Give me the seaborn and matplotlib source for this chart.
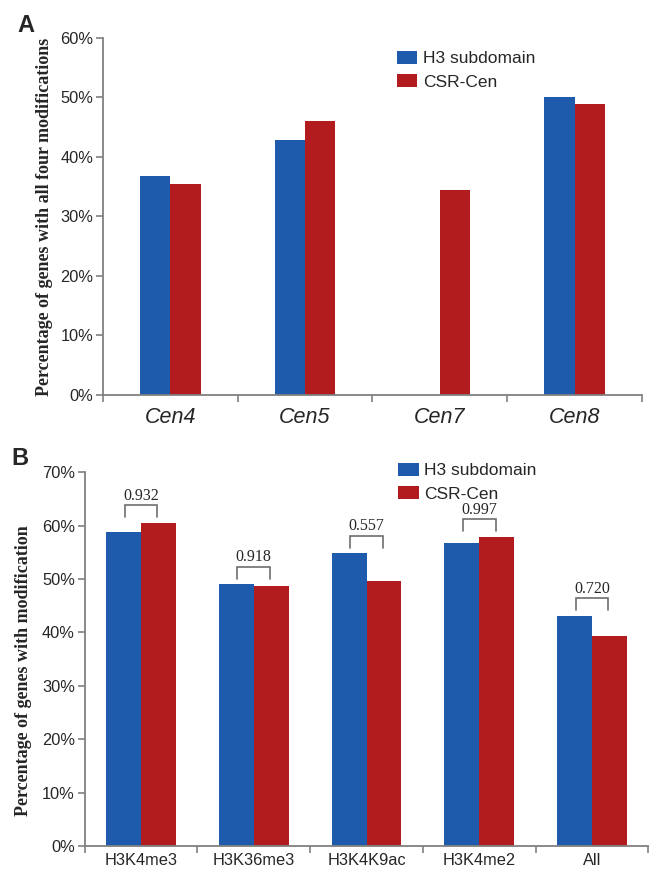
import numpy as np
import pandas as pd
import matplotlib
matplotlib.use("Agg")
import matplotlib.pyplot as plt
import seaborn as sns

#Panel A: genes with all four modifications per centromere
cen_names = ["Cen4", "Cen5", "Cen7", "Cen8"]
cen_h3 = [36.8, 42.8, np.nan, 50.0]
cen_csr = [35.5, 46.1, 34.4, 48.9]

#Panel B: genes with each modification
mod_names = ["H3K4me3", "H3K36me3", "H3K4K9ac", "H3K4me2", "All"]
mod_h3 = [58.8, 49.0, 54.8, 56.8, 43.1]
mod_csr = [60.5, 48.7, 49.7, 57.9, 39.4]
p_values = ["0.932", "0.918", "0.557", "0.997", "0.720"]

series_names = ["H3 subdomain", "CSR-Cen"]
bar_colors = ["#1f5bad", "#b31c1f"]
GRAY = "#808080"


#long table for seaborn, NaN rows are dropped so no bar is drawn
def make_df(names, h3, csr):
    rows = []
    for name, a, b in zip(names, h3, csr):
        rows.append({"group": name, "series": series_names[0], "value": a})
        rows.append({"group": name, "series": series_names[1], "value": b})
    return pd.DataFrame(rows).dropna()


def style_axes(ax, names, ymax, label, label_y):
    n = len(names)
    ax.set_xlim(-0.5, n - 0.5)
    ax.set_ylim(0, ymax)
    ax.set_yticks(np.arange(0, ymax + 1, 10))
    ax.set_yticklabels([f"{int(v)}%" for v in np.arange(0, ymax + 1, 10)], fontsize=11.8)
    #ticks sit between the categories, labels in the middle
    ax.set_xticks(np.arange(n + 1) - 0.5, labels=[""] * (n + 1))
    ax.set_xticks(np.arange(n), minor=True)
    ax.tick_params(axis="x", which="major", length=5, width=1.2, color=GRAY, direction="out")
    ax.tick_params(axis="x", which="minor", length=0)
    ax.tick_params(axis="y", length=5, width=1.2, color=GRAY, direction="out", pad=2)
    for s in ["top", "right"]:
        ax.spines[s].set_visible(False)
    for s in ["left", "bottom"]:
        ax.spines[s].set_color(GRAY)
        ax.spines[s].set_linewidth(1.3)
    ax.set_xlabel("")
    ax.set_ylabel(label, family="Liberation Serif", fontweight="bold", fontsize=13, va="center")
    ax.yaxis.set_label_coords(-0.108, label_y)


def draw_bars(ax, df, names, width, legend_xy):
    sns.barplot(data=df, x="group", y="value", hue="series", order=names,
                hue_order=series_names, palette=bar_colors, width=width,
                saturation=1, errorbar=None, linewidth=0, ax=ax)
    handles, labels = ax.get_legend_handles_labels()
    ax.legend(handles, labels, loc="upper left", bbox_to_anchor=legend_xy, frameon=False,
              fontsize=12.5, handlelength=1.2, handleheight=0.75, handletextpad=0.3,
              labelspacing=0.45, borderaxespad=0, borderpad=0)


def main():
    sns.set_style("ticks")
    plt.rcParams["font.family"] = ["Liberation Sans", "DejaVu Sans"]

    fig = plt.figure(figsize=(6.51, 8.69), dpi=100)
    ax_a = fig.add_axes([0.158, 0.5455, 0.828, 0.411])
    ax_b = fig.add_axes([0.130, 0.0265, 0.866, 0.430])

    #Panel A
    draw_bars(ax_a, make_df(cen_names, cen_h3, cen_csr), cen_names, 0.45, (0.545, 0.963))
    style_axes(ax_a, cen_names, 60, "Percentage of genes with all four modifications", 0.5)
    ax_a.set_xticklabels(cen_names, minor=True, fontsize=15.5, style="italic")
    ax_a.tick_params(axis="x", which="minor", pad=9)

    #Panel B
    draw_bars(ax_b, make_df(mod_names, mod_h3, mod_csr), mod_names, 0.62, (0.556, 1.025))
    style_axes(ax_b, mod_names, 70, "Percentage of genes with modification", 0.47)
    ax_b.set_xticklabels(mod_names, minor=True, fontsize=11.8)
    ax_b.tick_params(axis="x", which="minor", pad=5)

    #brackets with p values above each pair
    for i, (h, c, p) in enumerate(zip(mod_h3, mod_csr, p_values)):
        top = max(h, c) + 3.3
        x0, x1 = i - 0.145, i + 0.145
        ax_b.plot([x0, x0, x1, x1], [top - 2.2, top, top, top - 2.2], color="#6e6e6e", lw=1.2,
                  solid_joinstyle="miter")
        ax_b.text(i, top + 0.3, p, ha="center", va="bottom", family="Liberation Serif", fontsize=11.5)

    #panel letters
    fig.text(0.026, 0.963, "A", fontsize=17, fontweight="bold")
    fig.text(0.018, 0.465, "B", fontsize=17, fontweight="bold")

    fig.savefig("out.png", dpi=100)
    plt.close(fig)


if __name__ == "__main__":
    main()
